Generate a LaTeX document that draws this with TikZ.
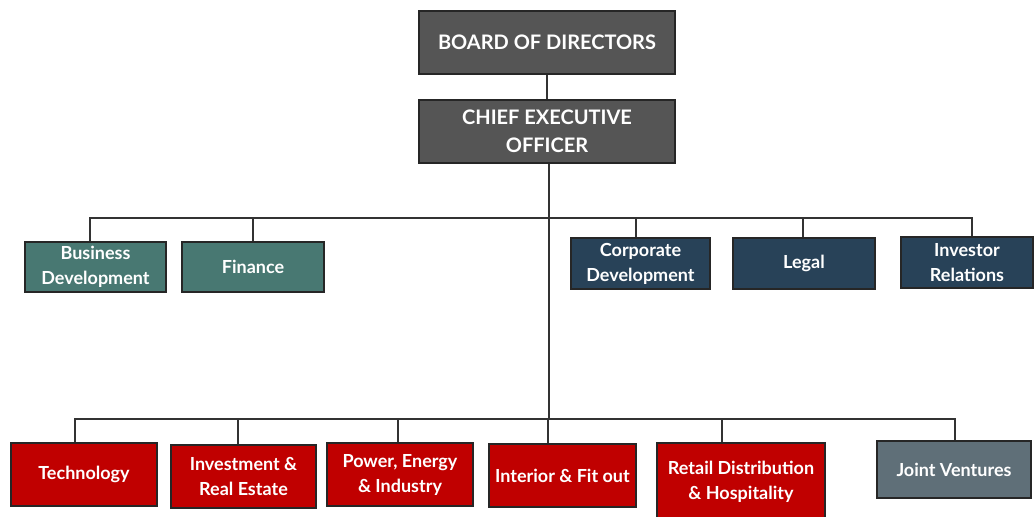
\documentclass[tikz,border=0pt]{standalone}
\usepackage{fontspec}
\setmainfont{Lato}
\usepackage{tikz}

\definecolor{boardgray}{HTML}{555555}
\definecolor{staffteal}{HTML}{487872}
\definecolor{corpnavy}{HTML}{284258}
\definecolor{unitred}{HTML}{C00000}
\definecolor{jvgray}{HTML}{5F6F78}
\definecolor{linegray}{HTML}{333333}

\begin{document}
\begin{tikzpicture}[x=0.5pt,y=-0.5pt,
		box/.style={draw=black!85,line width=0.8pt,text=white,font=\bfseries\fontsize{9}{12.5}\selectfont,align=center,inner sep=0pt},
		topbox/.style={box,fill=boardgray,minimum width=128pt,minimum height=31.5pt,font=\bfseries\fontsize{10}{14}\selectfont},
		link/.style={draw=linegray,line width=1pt}]
		\useasboundingbox (0,0) rectangle (1034,516);
		\node[topbox] (board) at (547,42.5) {BOARD OF DIRECTORS};
		\node[topbox] (ceo) at (547,131.5) {CHIEF EXECUTIVE\\OFFICER};
		% staff functions
		\node[box,fill=staffteal,minimum width=70.5pt,minimum height=25pt] (bizdev) at (95.5,267) {Business\\Development};
		\node[box,fill=staffteal,minimum width=71pt,minimum height=25pt] (finance) at (253,267) {Finance};
		\node[box,fill=corpnavy,minimum width=69.5pt,minimum height=25.5pt] (corpdev) at (640.5,263.5) {Corporate\\Development};
		\node[box,fill=corpnavy,minimum width=71pt,minimum height=25.5pt] (legal) at (804,263.5) {Legal};
		\node[box,fill=corpnavy,minimum width=66pt,minimum height=25.5pt] (investor) at (967,262.5) {Investor\\Relations};
		% business units
		\node[box,fill=unitred,minimum width=73pt,minimum height=31.5pt] (tech) at (84,474.5) {Technology};
		\node[box,fill=unitred,minimum width=72.5pt,minimum height=31.5pt] (invest) at (243.5,476.5) {Investment \&\\Real Estate};
		\node[box,fill=unitred,minimum width=73pt,minimum height=31.5pt] (power) at (400,474.5) {Power, Energy\\\& Industry};
		\node[box,fill=unitred,minimum width=73.5pt,minimum height=31.5pt] (interior) at (562.5,475.5) {Interior \& Fit out};
		\node[box,fill=unitred,minimum width=84pt,minimum height=37.5pt,text depth=0pt] (retail) at (741,480.5) {Retail Distribution\\\& Hospitality};
		\node[box,fill=jvgray,minimum width=77pt,minimum height=28.5pt] (jv) at (954,469.5) {Joint Ventures};
		% connectors
		\coordinate (upbus) at (549,218);
		\coordinate (lowbus) at (549,419);
		\draw[link] (board) -- (ceo);
		\draw[link] (ceo.south -| upbus) -- (lowbus);
		\foreach \n/\x in {bizdev/90,finance/253,corpdev/636,legal/803,investor/972}
			\draw[link] (\n.north -| \x,0) |- (upbus);
		\foreach \n/\x in {tech/75,invest/238,power/398,interior/548,retail/722,jv/955}
			\draw[link] (\n.north -| \x,0) |- (lowbus);
	\end{tikzpicture}
\end{document}
